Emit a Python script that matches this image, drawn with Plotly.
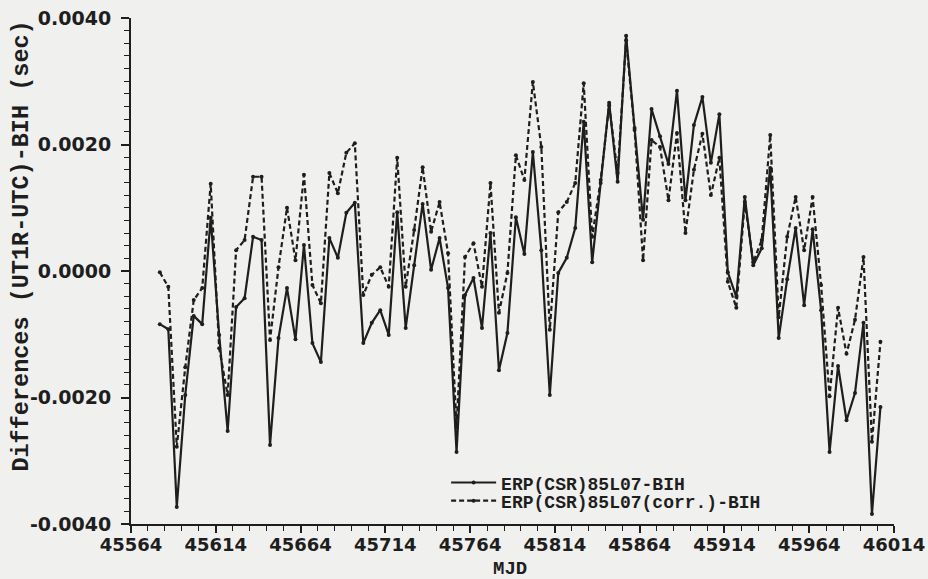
import plotly.graph_objects as go

mjd_start = 45581
step_days = 5

erp_bih = [
    -0.00084, -0.00092, -0.00373, -0.00196, -0.00071, -0.00084, 0.00084, -0.00101, -0.00253, -0.00057,
    -0.00043, 0.00054, 0.00049, -0.00275, -0.00106, -0.00027, -0.00108, 0.00041, -0.00114, -0.00144,
    0.00052, 0.00021, 0.00092, 0.00108, -0.00114, -0.00082, -0.00062, -0.00101, 0.00093, -0.00090,
    0.00009, 0.00106, 0.00002, 0.00052, -0.00027, -0.00286, -0.00038, -0.00011, -0.00090, 0.00060,
    -0.00157, -0.00098, 0.00085, 0.00027, 0.00188, 0.00033, -0.00196, -0.00003, 0.00021, 0.00068,
    0.00236, 0.00014, 0.00139, 0.00266, 0.00141, 0.00372, 0.00226, 0.00081, 0.00256, 0.00213,
    0.00169, 0.00285, 0.00112, 0.00231, 0.00275, 0.00171, 0.00248, -0.00002, -0.00041, 0.00117,
    0.00009, 0.00036, 0.00163, -0.00106, -0.00013, 0.00068, -0.00054, 0.00066, -0.00062, -0.00286,
    -0.00150, -0.00236, -0.00193, -0.00082, -0.00384, -0.00215,
]

erp_corr_bih = [
    -0.00002, -0.00025, -0.00278, -0.00152, -0.00046, -0.00027, 0.00138, -0.00122, -0.00196, 0.00033,
    0.00049, 0.00149, 0.00149, -0.00109, 0.00006, 0.00100, 0.00017, 0.00152, -0.00022, -0.00051,
    0.00155, 0.00123, 0.00187, 0.00202, -0.00038, -0.00006, 0.00006, -0.00025, 0.00179, -0.00025,
    0.00065, 0.00164, 0.00062, 0.00109, 0.00028, -0.00247, 0.00022, 0.00044, -0.00025, 0.00139,
    -0.00066, -0.00003, 0.00183, 0.00144, 0.00299, 0.00196, -0.00093, 0.00093, 0.00109, 0.00139,
    0.00297, 0.00054, 0.00144, 0.00262, 0.00155, 0.00365, 0.00223, 0.00017, 0.00207, 0.00196,
    0.00112, 0.00218, 0.00060, 0.00160, 0.00217, 0.00120, 0.00179, -0.00017, -0.00058, 0.00109,
    0.00014, 0.00049, 0.00215, -0.00073, 0.00054, 0.00117, 0.00033, 0.00117, -0.00022, -0.00198,
    -0.00058, -0.00131, -0.00077, 0.00022, -0.00270, -0.00112,
]

mjd = [mjd_start + step_days * i for i in range(len(erp_bih))]

x_ticks = [45564, 45614, 45664, 45714, 45764, 45814, 45864, 45914, 45964, 46014]
y_ticks = [-0.004, -0.002, 0.0, 0.002, 0.004]
y_tick_labels = ["-0.0040", "-0.0020", "0.0000", "0.0020", "0.0040"]

ink = "#1e1e1e"
bg = "#f0f0ee"
sans = "DejaVu Sans, Liberation Sans, sans-serif"
mono_serif = "Liberation Mono, Courier New, monospace"

fig = go.Figure()
fig.add_trace(go.Scatter(
    x=mjd, y=erp_bih, mode="lines+markers",
    name="ERP(CSR)85L07-BIH",
    line=dict(color=ink, width=2.2),
    marker=dict(color=ink, size=4),
    legend="legend",
))
fig.add_trace(go.Scatter(
    x=mjd, y=erp_corr_bih, mode="lines+markers",
    name="ERP(CSR)85L07(corr.)-BIH",
    line=dict(color=ink, width=2.2, dash="5px,3px"),
    marker=dict(color=ink, size=4),
    legend="legend2",
))

legend_common = dict(
    xanchor="left", yanchor="top",
    bgcolor="rgba(0,0,0,0)", borderwidth=0,
    font=dict(family=mono_serif, size=18, color=ink, weight="bold"),
    itemwidth=45,
)

fig.update_layout(
    width=928, height=579,
    margin=dict(l=131, r=34, t=18, b=55),
    paper_bgcolor=bg,
    plot_bgcolor=bg,
    font=dict(family=sans, color=ink, size=18, weight="bold"),
    legend=dict(x=0.413, y=0.118, **legend_common),
    legend2=dict(x=0.413, y=0.082, **legend_common),
    showlegend=True,
    annotations=[
        dict(text="Differences (UT1R-UTC)-BIH (sec)", textangle=-90,
             xref="paper", yref="paper", x=-0.143, y=0.55,
             xanchor="center", yanchor="middle", showarrow=False,
             font=dict(family=mono_serif, size=23.5, color=ink, weight="bold")),
        dict(text="MJD", xref="paper", yref="paper", x=0.497, y=-0.088,
             xanchor="center", yanchor="middle", showarrow=False,
             font=dict(family=mono_serif, size=19, color=ink, weight="bold")),
    ],
)

fig.update_xaxes(
    range=[45564, 46014],
    tickvals=x_ticks,
    ticktext=[str(v) for v in x_ticks],
    ticks="outside", ticklen=7, tickwidth=1.5, tickcolor=ink,
    minor=dict(dtick=10, tick0=45564, ticks="outside", ticklen=5, tickcolor=ink, tickwidth=1.2),
    showline=True, linecolor=ink, linewidth=2,
    showgrid=False, zeroline=False, automargin=False,
    ticklabelstandoff=-4,
    tickfont=dict(family=sans, size=18, color=ink, weight="bold"),
)
fig.update_yaxes(
    range=[-0.004, 0.004],
    tickvals=y_ticks,
    ticktext=y_tick_labels,
    ticks="outside", ticklen=8, tickwidth=1.5, tickcolor=ink,
    minor=dict(dtick=0.0002, tick0=0, ticks="outside", ticklen=5, tickcolor=ink, tickwidth=1.2),
    showline=True, linecolor=ink, linewidth=2,
    showgrid=False, zeroline=False, automargin=False,
    ticklabelstandoff=6,
    tickfont=dict(family=sans, size=19, color=ink, weight="bold"),
)

fig.write_html(
    "out.html",
    config={"displayModeBar": False},
    post_script="document.body.style.margin='0';document.body.style.background='%s';" % bg,
)
